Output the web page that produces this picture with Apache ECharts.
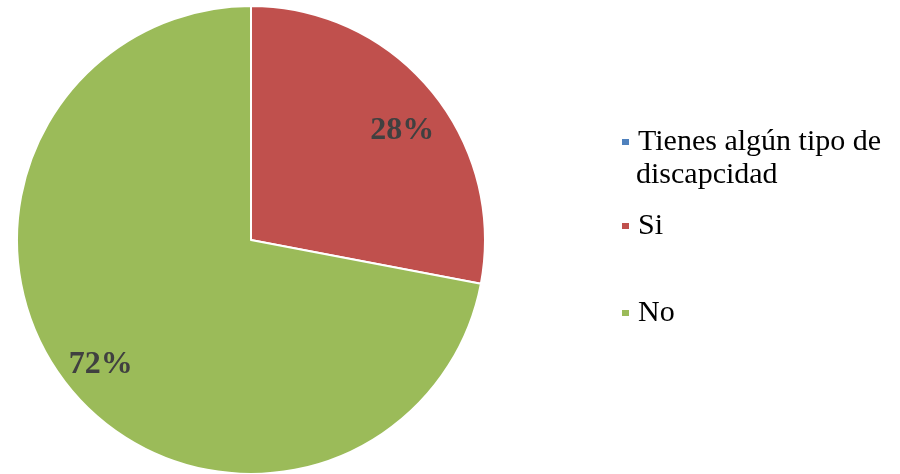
<!DOCTYPE html>
<html><head><meta charset="utf-8">
<script src="https://cdn.jsdelivr.net/npm/echarts@6/dist/echarts.min.js"></script>
<style>html,body{margin:0;padding:0;background:#fff}#c{width:900px;height:474px}</style>
</head><body><div id="c"></div>
<script>
const categories = ['Tienes algún tipo de discapcidad', 'Si', 'No'];
const values = [0, 28, 72];
const colors = ['#4F81BD', '#C0504D', '#9BBB59'];

const chart = echarts.init(document.getElementById('c'));
const data = categories.map((n, i) => ({ name: n, value: values[i], itemStyle: { color: colors[i] } }));
const legendNames = ['Tienes algún tipo de', 'Si', 'No'];
const legendTops = [122, 206, 293];
const font = 'Liberation Serif';

chart.setOption({
  animation: false,
  legend: categories.map((n, i) => ({
    data: [n],
    left: 615,
    top: legendTops[i],
    icon: 'rect',
    itemWidth: 9,
    itemHeight: 8,
    itemGap: 0,
    selectedMode: false,
    formatter: () => legendNames[i],
    textStyle: { fontFamily: font, fontSize: 30, color: '#000', padding: [0, 0, 0, 3] }
  })),
  graphic: [{
    type: 'text', left: 636, top: 160,
    style: { text: 'discapcidad', font: '30px "Liberation Serif"', fill: '#000' }
  }],
  series: [{
    type: 'pie',
    center: [251, 240],
    radius: 234,
    startAngle: 90,
    clockwise: true,
    percentPrecision: 0,
    avoidLabelOverlap: false,
    itemStyle: { borderColor: '#fff', borderWidth: 2 },
    label: { show: false },
    labelLine: { show: false },
    emphasis: { disabled: true },
    data: data
  }, {
    type: 'pie',
    center: [251, 240],
    radius: [150, 234],
    startAngle: 90,
    clockwise: true,
    percentPrecision: 0,
    avoidLabelOverlap: false,
    silent: true,
    itemStyle: { color: 'rgba(0,0,0,0)', borderWidth: 0 },
    label: {
      show: true, position: 'inside',
      formatter: p => p.value ? p.percent + '%' : '',
      fontFamily: font, fontSize: 32, fontWeight: 'bold', color: '#404040'
    },
    labelLine: { show: false },
    emphasis: { disabled: true },
    data: categories.map((n, i) => ({
      name: n, value: values[i],
      label: i === 1 ? { offset: [1, 15] } : {}
    }))
  }]
});
</script></body></html>
